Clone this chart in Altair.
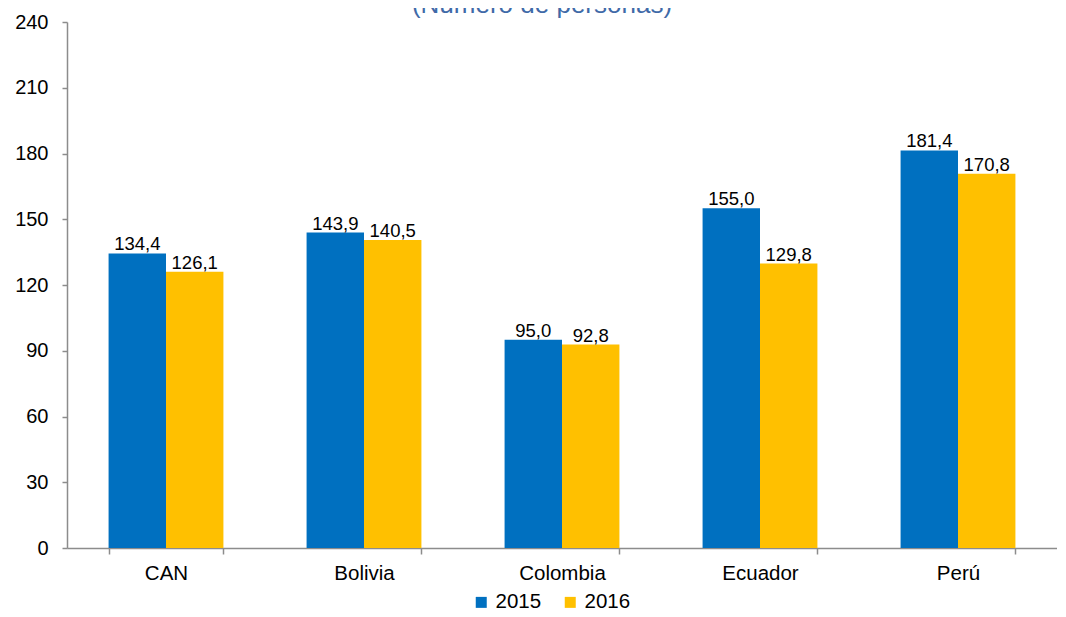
import altair as alt
import pandas as pd

categories = ["CAN", "Bolivia", "Colombia", "Ecuador", "Perú"]
years = ["2015", "2016"]
values_2015 = [134.4, 143.9, 95.0, 155.0, 181.4]
values_2016 = [126.1, 140.5, 92.8, 129.8, 170.8]
y_ticks = [0, 30, 60, 90, 120, 150, 180, 210, 240]
colors = ["#0070C0", "#FFC000"]
title_text = "(Número de personas)"

rows = []
for c, a, b in zip(categories, values_2015, values_2016):
    rows.append({"pais": c, "anio": "2015", "valor": a})
    rows.append({"pais": c, "anio": "2016", "valor": b})
df = pd.DataFrame(rows)
df["etiqueta"] = df["valor"].map(lambda v: f"{v:.1f}".replace(".", ","))

FONT = "Liberation Sans"
AXIS_GRAY = "#8C8C8C"

x_enc = alt.X(
    "pais:N",
    sort=categories,
    scale=alt.Scale(paddingInner=0.42, paddingOuter=0.21),
    axis=alt.Axis(
        title=None, labelAngle=0, tickBand="extent", tickSize=6, labelPadding=9,
        labelFontSize=20.5, labelColor="black", labelFont=FONT,
        domainColor=AXIS_GRAY, tickColor=AXIS_GRAY, domainWidth=1.5, tickWidth=1.5,
    ),
)
xoff_enc = alt.XOffset("anio:N", sort=years, scale=alt.Scale(paddingInner=0, paddingOuter=0))
y_enc = alt.Y(
    "valor:Q",
    scale=alt.Scale(domain=[0, 240], nice=False),
    axis=alt.Axis(
        title=None, values=y_ticks, grid=False, tickSize=5, labelPadding=14,
        labelFontSize=20, labelColor="black", labelFont=FONT,
        domainColor=AXIS_GRAY, tickColor=AXIS_GRAY, domainWidth=1.5, tickWidth=1.5,
    ),
)

base = alt.Chart(df)

bars = base.mark_bar().encode(
    x=x_enc,
    xOffset=xoff_enc,
    y=y_enc,
    color=alt.Color(
        "anio:N",
        scale=alt.Scale(domain=years, range=colors),
        legend=alt.Legend(
            title=None, orient="none", legendX=404, legendY=570, direction="horizontal",
            symbolType="square", symbolSize=121, symbolStrokeWidth=0,
            labelFontSize=20.5, labelFont=FONT, labelColor="black",
            columnPadding=18, labelOffset=4, padding=0,
        ),
    ),
)

labels = base.mark_text(
    baseline="alphabetic", dy=-3, fontSize=18.5, font=FONT, color="black"
).encode(
    x=x_enc,
    xOffset=xoff_enc,
    y=y_enc,
    text="etiqueta:N",
)

title_layer = alt.Chart(alt.Data(values=[{"t": title_text}])).mark_text(
    fontSize=26, color="#3F6AA8", font=FONT, align="center", baseline="alphabetic"
).encode(
    x=alt.value(475),
    y=alt.value(-9),
    text="t:N",
)

chart = alt.layer(bars, labels, title_layer).properties(
    width=990,
    height=526,
    padding={"left": 59, "top": 14, "right": 0, "bottom": 66},
    autosize="none",
).configure_view(stroke=None)

chart.save("out.html", embed_options={"renderer": "svg", "actions": False})
